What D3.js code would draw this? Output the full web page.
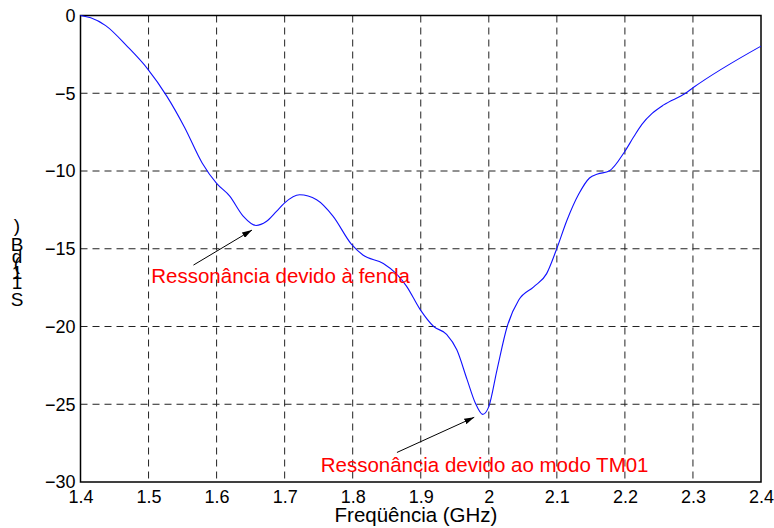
<!DOCTYPE html>
<html>
<head>
<meta charset="utf-8">
<script src="https://cdn.jsdelivr.net/npm/d3@7"></script>
<style>
  html, body { margin: 0; padding: 0; background: #fff; }
  svg { display: block; font-family: Arial, "Liberation Sans", Helvetica, sans-serif; }
</style>
</head>
<body>
<svg id="chart" width="774" height="528"></svg>
<script>
// Measured return loss of the antenna, S11 in dB versus frequency in GHz
const freq = [1.400, 1.415, 1.437, 1.469, 1.498, 1.527, 1.553, 1.579, 1.600, 1.619,
              1.639, 1.658, 1.673, 1.688, 1.700, 1.722, 1.747, 1.771, 1.798, 1.815,
              1.845, 1.864, 1.879, 1.899, 1.919, 1.938, 1.953, 1.968, 1.980, 1.991,
              2.000, 2.012, 2.027, 2.044, 2.066, 2.085, 2.099, 2.115, 2.132, 2.148,
              2.160, 2.177, 2.200, 2.213, 2.225, 2.240, 2.257, 2.289, 2.300, 2.400];
const s11 = [0, -0.15, -0.65, -2.0, -3.4, -5.2, -7.2, -9.5, -10.8, -11.6,
             -12.9, -13.5, -13.25, -12.6, -12.05, -11.53, -11.85, -12.9, -14.7, -15.4,
             -15.95, -16.6, -17.4, -18.9, -20.0, -20.5, -21.5, -23.4, -24.9, -25.65,
             -25.15, -22.8, -20.0, -18.3, -17.45, -16.6, -15.1, -13.15, -11.5, -10.45,
             -10.2, -10.0, -8.73, -7.8, -7.0, -6.3, -5.75, -5.0, -4.65, -1.97];

const xTicks = [1.4, 1.5, 1.6, 1.7, 1.8, 1.9, 2.0, 2.1, 2.2, 2.3, 2.4];
const yTicks = [0, -5, -10, -15, -20, -25, -30];

// Annotations: text anchor and arrow (tail -> head), in data units
const notes = [
  { text: "Ressonância devido à fenda",       tx: 1.504, ty: -17.2,  x0: 1.566, y0: -16.05, x1: 1.652, y1: -13.8 },
  { text: "Ressonância devido ao modo TM01",  tx: 1.753, ty: -29.35, x0: 1.865, y0: -28.1,  x1: 1.9786, y1: -25.84 }
];

const yLabelChars = [")", "B", "d", "(", "1", "1", "S"];

const svg = d3.select("#chart");
const plotL = 80.5, plotR = 761, plotT = 15.5, plotB = 482;

const x = d3.scaleLinear().domain([1.4, 2.4]).range([plotL, plotR]);
const y = d3.scaleLinear().domain([-30, 0]).range([plotB, plotT]);

// Dashed grid
const grid = svg.append("g")
  .attr("stroke", "#222")
  .attr("stroke-width", 1)
  .attr("stroke-dasharray", "7,5");
grid.selectAll("line.vx")
  .data(xTicks.slice(1, -1))
  .join("line")
  .attr("class", "vx")
  .attr("x1", d => x(d)).attr("x2", d => x(d))
  .attr("y1", plotT).attr("y2", plotB);
grid.selectAll("line.hy")
  .data(yTicks.slice(1, -1))
  .join("line")
  .attr("class", "hy")
  .attr("x1", plotL).attr("x2", plotR)
  .attr("y1", d => y(d)).attr("y2", d => y(d));

// Axes with labels only
const xAxis = d3.axisBottom(x).tickValues(xTicks).tickSize(0).tickPadding(8)
  .tickFormat(d => String(+d.toFixed(1)));
const gx = svg.append("g").attr("transform", `translate(0,${plotB})`).call(xAxis);
gx.select(".domain").remove();
gx.selectAll("text").attr("font-size", 18).attr("fill", "#000")
  .attr("font-family", "Arial, 'Liberation Sans', sans-serif");

const yAxis = d3.axisLeft(y).tickValues(yTicks).tickSize(0).tickPadding(5)
  .tickFormat(d3.format("d"));
const gy = svg.append("g").attr("transform", `translate(${plotL},0)`).call(yAxis);
gy.select(".domain").remove();
gy.selectAll("text").attr("font-size", 18).attr("fill", "#000")
  .attr("font-family", "Arial, 'Liberation Sans', sans-serif");

// Frame
svg.append("rect")
  .attr("x", plotL).attr("y", plotT)
  .attr("width", plotR - plotL).attr("height", plotB - plotT)
  .attr("fill", "none").attr("stroke", "#000").attr("stroke-width", 1.5);

// S11 curve
const pts = freq.map((f, i) => [f, s11[i]]);
const line = d3.line()
  .x(d => x(d[0])).y(d => y(d[1]))
  .curve(d3.curveMonotoneX);
svg.append("path")
  .datum(pts)
  .attr("d", line)
  .attr("fill", "none")
  .attr("stroke", "#1010ff")
  .attr("stroke-width", 1.1);

// Arrow head marker
svg.append("defs").append("marker")
  .attr("id", "head")
  .attr("viewBox", "0 0 10 6")
  .attr("refX", 10).attr("refY", 3)
  .attr("markerWidth", 10).attr("markerHeight", 6)
  .attr("markerUnits", "userSpaceOnUse")
  .attr("orient", "auto")
  .append("path").attr("d", "M0,0 L10,3 L0,6 Z").attr("fill", "#000");

// Annotations
const ann = svg.append("g");
ann.selectAll("line")
  .data(notes)
  .join("line")
  .attr("x1", d => x(d.x0)).attr("y1", d => y(d.y0))
  .attr("x2", d => x(d.x1)).attr("y2", d => y(d.y1))
  .attr("stroke", "#000").attr("stroke-width", 1)
  .attr("marker-end", "url(#head)");
ann.selectAll("text")
  .data(notes)
  .join("text")
  .attr("x", d => x(d.tx)).attr("y", d => y(d.ty))
  .attr("fill", "#ff0000")
  .attr("font-size", 20.5)
  .text(d => d.text);

// X axis title
svg.append("text")
  .attr("x", 416).attr("y", 522)
  .attr("text-anchor", "middle")
  .attr("font-size", 20.5)
  .text("Freqüência (GHz)");

// Y axis title: S11(dB), glyphs stacked bottom to top
const yLabelPos = [225, 244, 256, 263, 272, 282, 299];
svg.append("text")
  .attr("text-anchor", "middle")
  .attr("dominant-baseline", "central")
  .attr("font-size", 19)
  .selectAll("tspan")
  .data(yLabelChars)
  .join("tspan")
  .attr("x", 17)
  .attr("y", (d, i) => yLabelPos[i])
  .text(d => d);
</script>
</body>
</html>
